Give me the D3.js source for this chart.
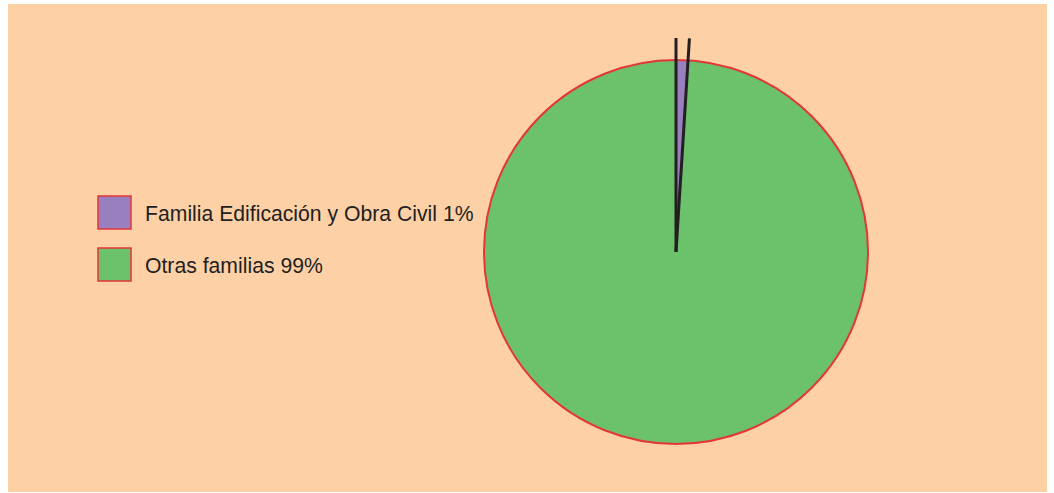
<!DOCTYPE html>
<html>
<head>
<meta charset="utf-8">
<script src="https://cdn.jsdelivr.net/npm/d3@7"></script>
<style>
  body { margin: 0; background: #fff; }
  svg { display: block; }
</style>
</head>
<body>
<script>
// chart data
var categories = ['Familia Edificación y Obra Civil', 'Otras familias'];
var values = [1, 99];
var labels = ['Familia Edificación y Obra Civil 1%', 'Otras familias 99%'];
var colors = ['#9a7fbe', '#6bc26a'];

var width = 1054;
var height = 493;

var svg = d3.select('body').append('svg')
  .attr('width', width)
  .attr('height', height);

// peach panel
svg.append('rect')
  .attr('x', 8)
  .attr('y', 4)
  .attr('width', 1039)
  .attr('height', 488)
  .attr('fill', '#fdd0a6');

var cx = 676;
var cy = 252;
var radius = 192;

var pie = d3.pie().sort(null).value(function(d) { return d; });
var arcs = pie(values);
var arc = d3.arc().innerRadius(0).outerRadius(radius);

var pieGroup = svg.append('g')
  .attr('transform', 'translate(' + cx + ',' + cy + ')');

pieGroup.selectAll('path.slice')
  .data(arcs)
  .enter().append('path')
    .attr('class', 'slice')
    .attr('d', arc)
    .attr('fill', function(d, i) { return colors[i]; });

// red outline of the whole pie
pieGroup.append('circle')
  .attr('r', radius)
  .attr('fill', 'none')
  .attr('stroke', '#e2363a')
  .attr('stroke-width', 2);

// dark edges of the small slice, sticking out past the rim
var lineLen = 214;
var small = arcs[0];
[small.startAngle, small.endAngle].forEach(function(a) {
  pieGroup.append('line')
    .attr('x1', 0)
    .attr('y1', 0)
    .attr('x2', Math.sin(a) * lineLen)
    .attr('y2', -Math.cos(a) * lineLen)
    .attr('stroke', '#231f20')
    .attr('stroke-width', 3);
});

// legend
var legend = svg.append('g')
  .attr('transform', 'translate(98, 196)');

var items = legend.selectAll('g.item')
  .data(labels)
  .enter().append('g')
    .attr('class', 'item')
    .attr('transform', function(d, i) { return 'translate(0,' + i * 52 + ')'; });

items.append('rect')
  .attr('width', 33)
  .attr('height', 33)
  .attr('fill', function(d, i) { return colors[i]; })
  .attr('stroke', '#e2363a')
  .attr('stroke-width', 1.5);

items.append('text')
  .attr('x', 47)
  .attr('y', 25)
  .attr('font-family', 'Liberation Sans, Arial, sans-serif')
  .attr('font-size', 21.2)
  .attr('fill', '#231f20')
  .text(function(d) { return d; });
</script>
</body>
</html>
